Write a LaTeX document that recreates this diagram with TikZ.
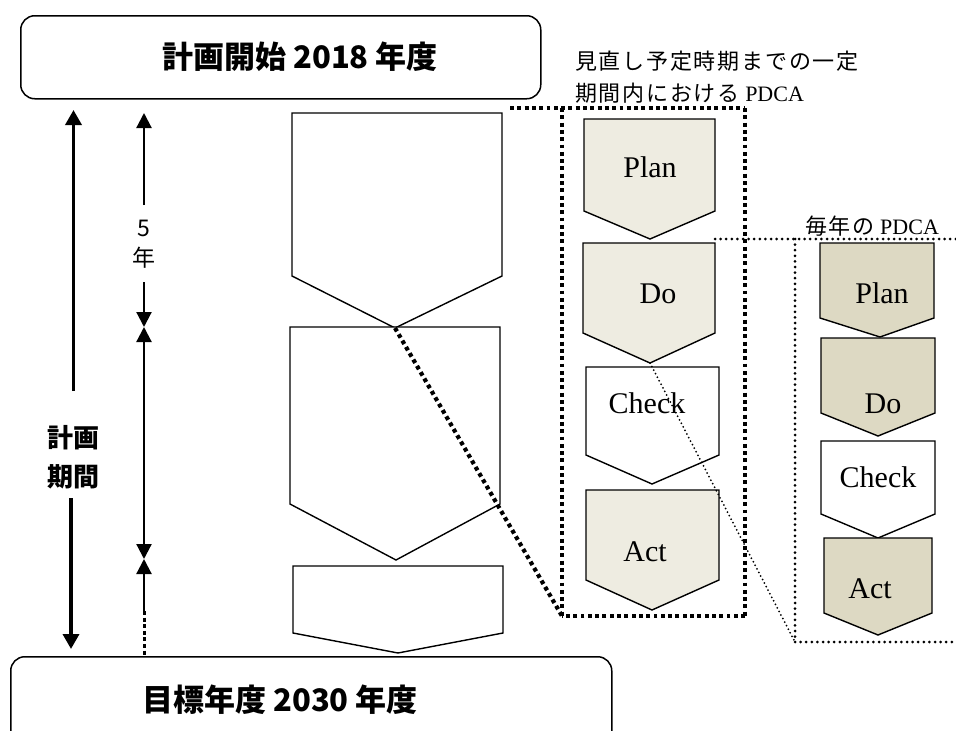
\documentclass[tikz,border=0pt]{standalone}
\usepackage{fontspec}
\setmainfont{Liberation Serif}
\newfontfamily\jpfont{Noto Sans CJK JP}
\newfontfamily\jpnotefont[LetterSpace=8]{Noto Sans CJK JP}
\usetikzlibrary{arrows.meta}
\definecolor{pdcalight}{HTML}{EEECE1}
\definecolor{pdcadark}{HTML}{DDD9C3}
\newcommand{\pentashape}[8]{%
  \filldraw[pentline, fill=#1] (#2,#4) -- (#3,#4) -- (#3,#5) -- (#6,#7) -- (#2,#5) -- cycle;
  \coordinate (#8-tr) at (#3,#4);
  \coordinate (#8-tip) at (#6,#7);
  \coordinate (#8-rs) at (#3,#5);}
\tikzset{
  boxline/.style={draw=black, line width=1.5pt, inner sep=0pt},
  pentline/.style={draw=black, line width=1.4pt, line join=miter},
  bigarrow/.style={line width=3.5pt, -{Triangle[width=16pt,length=15pt]}},
  midarrow/.style={line width=2.2pt, -{Triangle[width=15pt,length=15pt]}},
  bigdots/.style={line width=4.2pt, dash pattern=on 3.9pt off 3.4pt},
  meddots/.style={line width=3pt, line cap=round, dash pattern=on 0pt off 5.6pt},
  finedots/.style={line width=2pt, line cap=round, dash pattern=on 0pt off 4pt},
  pdcalabel/.style={font=\fontsize{30}{30}\selectfont, inner sep=0pt, anchor=base},
  jptitle/.style={font=\jpfont\bfseries\fontsize{31}{31}\selectfont, inner sep=0pt},
  jpnote/.style={font=\fontsize{22}{22}\selectfont, inner sep=0pt, anchor=west},
}
\begin{document}
\begin{tikzpicture}[x=1pt,y=-1pt]
\fill[white] (0,0) rectangle (956,731);
\useasboundingbox (0,0) rectangle (956,731);

% start and target boxes
\node[boxline, rounded corners=14pt, minimum width=520pt, minimum height=83pt, anchor=north west] (startbox) at (20,15) {};
\node[jptitle] (starttext) at (300,57) {計画開始 2018 年度};
\node[boxline, rounded corners=14pt, minimum width=601pt, minimum height=110pt, anchor=north west] (endbox) at (10,656) {};
\node[jptitle] (endtext) at (280,700) {目標年度 2030 年度};

% plan period arrow
\node[font=\jpfont\bfseries\fontsize{26}{26}\selectfont, inner sep=0pt] (kp1) at (73,438) {計画};
\node[font=\jpfont\bfseries\fontsize{26}{26}\selectfont, inner sep=0pt] (kp2) at (73,477) {期間};
\coordinate (kA) at (73.5,391);
\coordinate (kAt) at (73.5,110);
\coordinate (kB) at (71,498);
\coordinate (kBt) at (71,649);
\draw[bigarrow] (kA) -- (kAt);
\draw[bigarrow] (kB) -- (kBt);

% five-year arrows
\node[font=\jpfont\fontsize{23}{23}\selectfont, inner sep=0pt] (five) at (144,228) {5};
\node[font=\jpfont\fontsize{23}{23}\selectfont, inner sep=0pt] (nen) at (144,258) {年};
\coordinate (fA) at (144,205);
\coordinate (fAt) at (144,113);
\coordinate (fB) at (144,282);
\coordinate (fBt) at (144,327);
\coordinate (fC) at (144,559);
\coordinate (fD) at (144,611);
\coordinate (fE) at (144,656);
\draw[midarrow] (fA) -- (fAt);
\draw[midarrow] (fB) -- (fBt);
\draw[line width=2.2pt, {Triangle[width=15pt,length=15pt]}-{Triangle[width=15pt,length=15pt]}] (fBt) -- (fC);
\draw[midarrow] (fD) -- (fC);
\draw[line width=3pt, dash pattern=on 4pt off 2.6pt] (fD) -- (fE);

% big white pentagons
\pentashape{white}{292}{502}{113}{276}{395}{328}{w1}
\pentashape{white}{290}{500}{327}{504}{396}{560}{w2}
\pentashape{white}{293}{503}{566}{633}{398}{653}{w3}

% middle PDCA
\pentashape{pdcalight}{584}{715}{119}{211}{650}{239}{mp}
\pentashape{pdcalight}{583}{715}{243}{333}{650}{363}{md}
\pentashape{white}{586}{719}{367}{455}{652}{484}{mc}
\pentashape{pdcalight}{586}{719}{490}{580}{652}{610}{ma}
\node[pdcalabel] (mpt) at (650,177) {Plan};
\node[pdcalabel] (mdt) at (658,303) {Do};
\node[pdcalabel] (mct) at (647,413) {Check};
\node[pdcalabel] (mat) at (645,561) {Act};

% right PDCA
\pentashape{pdcadark}{820}{934}{243}{318}{880}{337}{rp}
\pentashape{pdcadark}{821}{935}{338}{413}{878}{436}{rd}
\pentashape{white}{821}{935}{441}{514}{878}{538}{rc}
\pentashape{pdcadark}{824}{932}{538}{613}{878}{635}{ra}
\node[pdcalabel] (rpt) at (882,303) {Plan};
\node[pdcalabel] (rdt) at (883,413) {Do};
\node[pdcalabel] (rct) at (878,487) {Check};
\node[pdcalabel] (rat) at (870,598) {Act};

% big dotted frame
\coordinate (bTL) at (562,108);
\coordinate (bTR) at (745,108);
\coordinate (bBR) at (745,616);
\coordinate (bBL) at (562,616);
\coordinate (bStart) at (510,108);
\draw[bigdots] (bStart) -- (bTR);
\draw[bigdots] (bTR) -- (bBR);
\draw[bigdots] (bBR) -- (bBL);
\draw[bigdots] (bTL) -- (bBL);
\draw[bigdots] (w1-tip) -- (bBL);

% small dotted frame
\coordinate (sStart) at (715,239);
\coordinate (sTL) at (795,239);
\coordinate (sTR) at (956,239);
\coordinate (sBL) at (795,642);
\coordinate (sBR) at (956,642);
\draw[meddots] (sStart) -- (sTR);
\draw[meddots] (sTL) -- (sBL);
\draw[meddots] (sBL) -- (sBR);
\draw[finedots] (md-tip) -- (sBL);

% notes
\node[jpnote] (note1) at (575,61) {\jpnotefont 見直し予定時期までの一定};
\node[jpnote] (note2) at (575,93) {{\jpnotefont 期間内における} PDCA};
\node[jpnote] (note3) at (805,226) {{\jpnotefont 毎年の} PDCA};
\end{tikzpicture}
\end{document}
